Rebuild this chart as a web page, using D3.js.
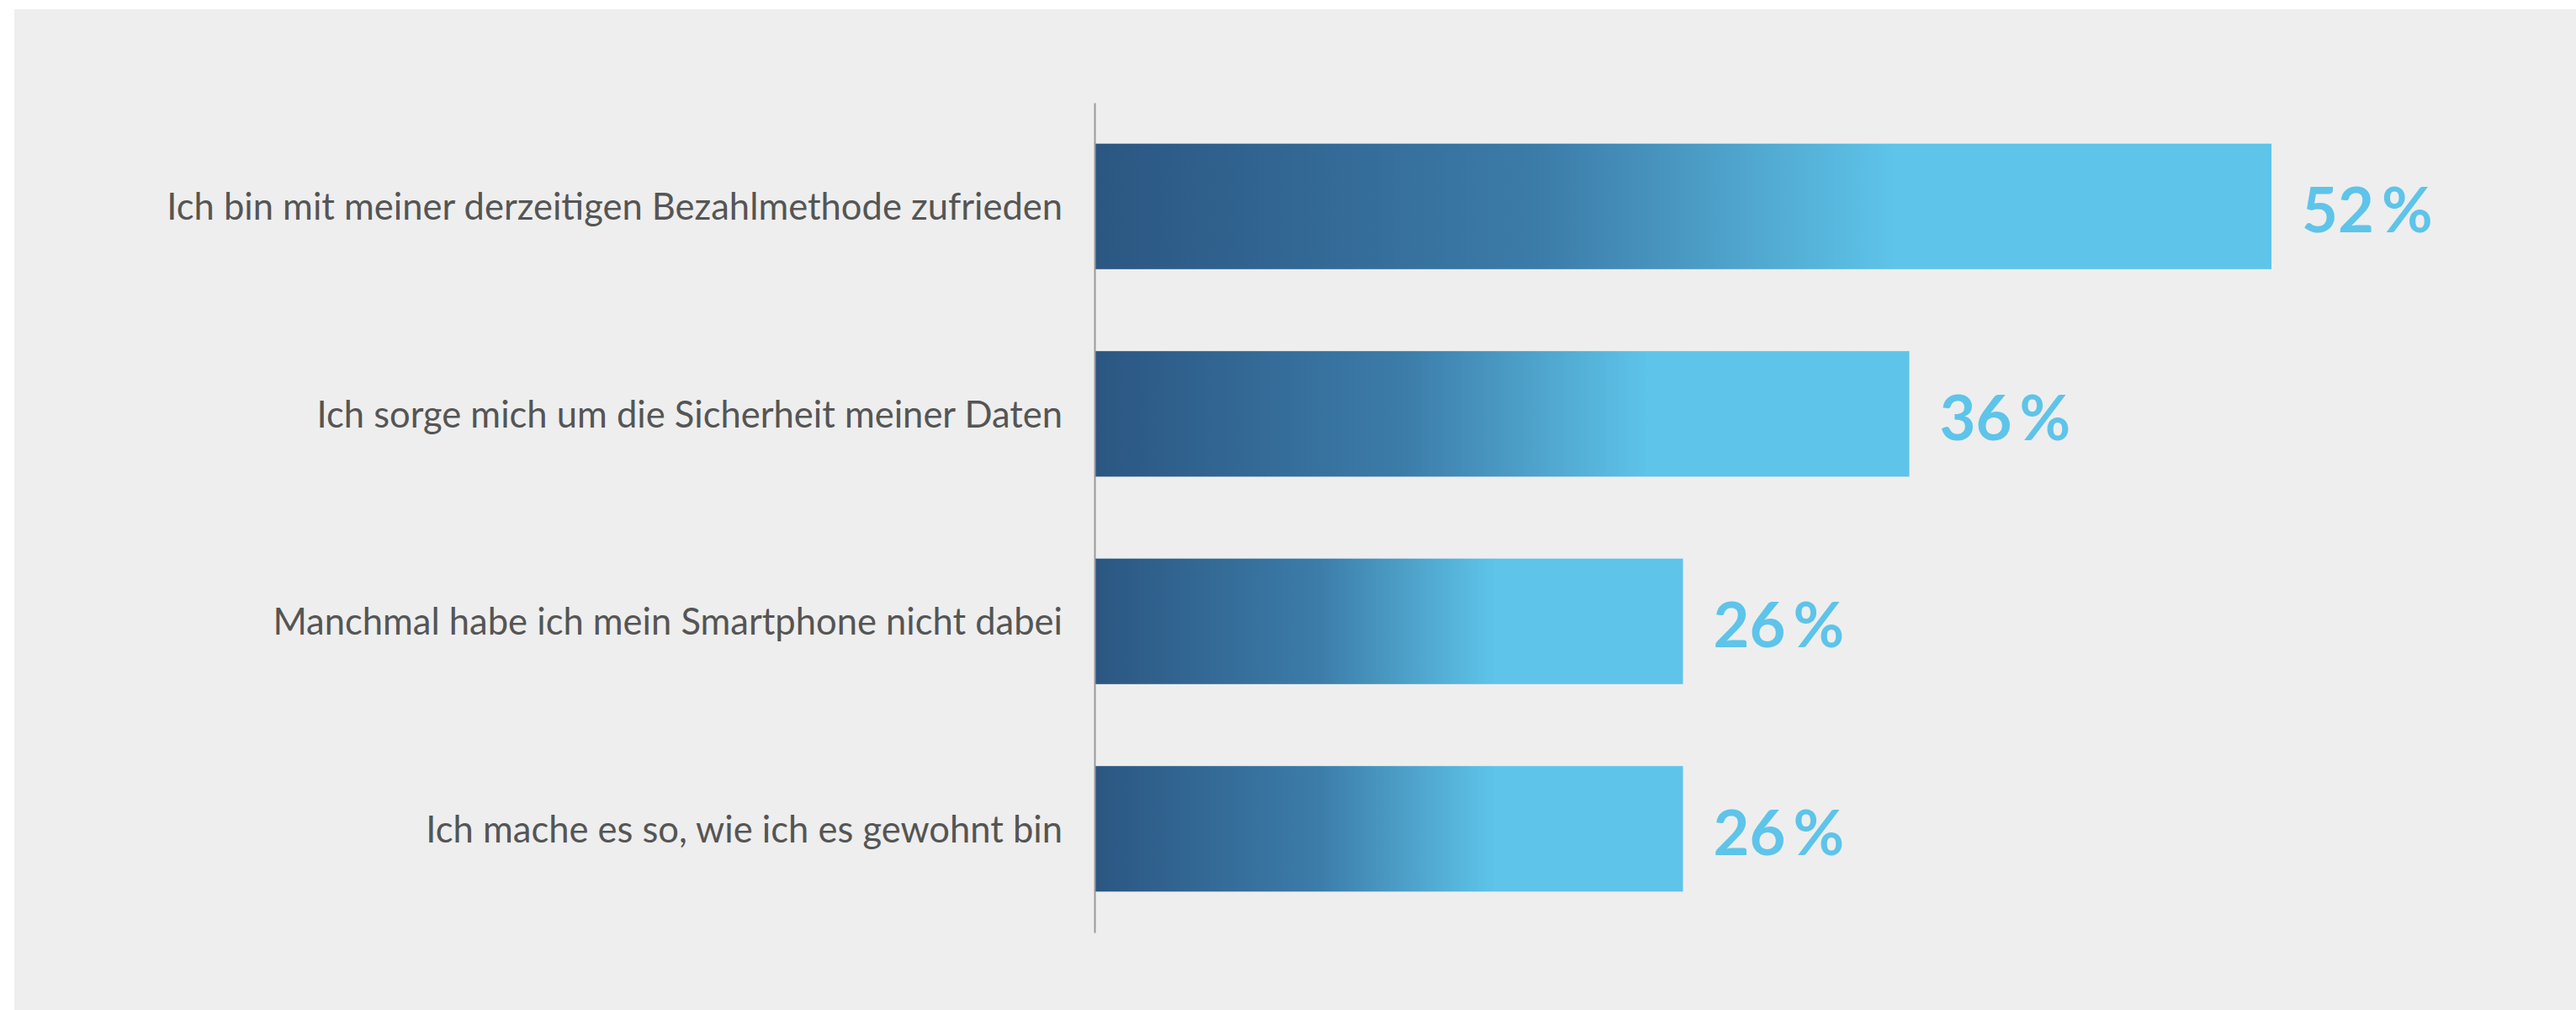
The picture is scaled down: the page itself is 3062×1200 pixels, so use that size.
<!DOCTYPE html>
<html>
<head>
<meta charset="utf-8">
<script src="https://cdn.jsdelivr.net/npm/d3@7"></script>
<style>
  html, body { margin: 0; padding: 0; background: #ffffff; }
  svg { display: block; }
</style>
</head>
<body>
<svg id="chart" width="3062" height="1200"></svg>
<script>
// ---- data ----
const categories = [
  "Ich bin mit meiner derzeitigen Bezahlmethode zufrieden",
  "Ich sorge mich um die Sicherheit meiner Daten",
  "Manchmal habe ich mein Smartphone nicht dabei",
  "Ich mache es so, wie ich es gewohnt bin"
];
const values = [52, 36, 26, 26];
const valueSuffix = "\u2009%";

// ---- layout ----
const W = 3062, H = 1200;
const svg = d3.select("#chart");

svg.append("rect")
  .attr("x", 17).attr("y", 11)
  .attr("width", W - 17).attr("height", H - 11)
  .attr("fill", "#eeeeee");

const x = d3.scaleLinear().domain([0, 52]).range([1301, 2700]);
const y = d3.scaleBand().domain(categories).range([122, 1108])
  .paddingInner(0.395).paddingOuter(0.1975);

// gradient
const defs = svg.append("defs");
const grad = defs.append("linearGradient")
  .attr("id", "barGrad")
  .attr("x1", "0").attr("y1", "0").attr("x2", "1").attr("y2", "0");
grad.append("stop").attr("offset", "0").attr("stop-color", "#2b5682");
grad.append("stop").attr("offset", "0.38").attr("stop-color", "#3c7ca9");
grad.append("stop").attr("offset", "0.68").attr("stop-color", "#5ec4e9");
grad.append("stop").attr("offset", "1").attr("stop-color", "#5ec4e9");

const data = categories.map((c, i) => ({ cat: c, val: values[i] }));

// bars
svg.append("g").selectAll("rect")
  .data(data)
  .join("rect")
  .attr("x", x(0))
  .attr("y", d => y(d.cat))
  .attr("width", d => x(d.val) - x(0))
  .attr("height", y.bandwidth())
  .attr("fill", "url(#barGrad)");

// axis line
const axis = d3.axisLeft(y).tickSize(0).tickSizeOuter(0).tickFormat("");
svg.append("g")
  .attr("transform", `translate(${x(0)},0)`)
  .call(axis)
  .call(g => g.select(".domain").attr("stroke", "#9a9a9a").attr("stroke-width", 2));

// category labels
svg.append("g").selectAll("text")
  .data(data)
  .join("text")
  .attr("x", x(0) - 38)
  .attr("y", d => y(d.cat) + y.bandwidth() / 2 + 16)
  .attr("text-anchor", "end")
  .attr("font-family", "Lato, 'Source Sans Pro', sans-serif")
  .attr("font-size", 43.5)
  .attr("fill", "#555555")
  .text(d => d.cat);

// value labels
svg.append("g").selectAll("text")
  .data(data)
  .join("text")
  .attr("x", d => x(d.val) + 36)
  .attr("y", d => y(d.cat) + y.bandwidth() / 2 + 31)
  .attr("font-family", "Lato, 'Source Sans Pro', sans-serif")
  .attr("font-weight", 700)
  .attr("font-size", 74)
  .attr("fill", "#5ec4e9")
  .text(d => d.val + valueSuffix);
</script>
</body>
</html>
